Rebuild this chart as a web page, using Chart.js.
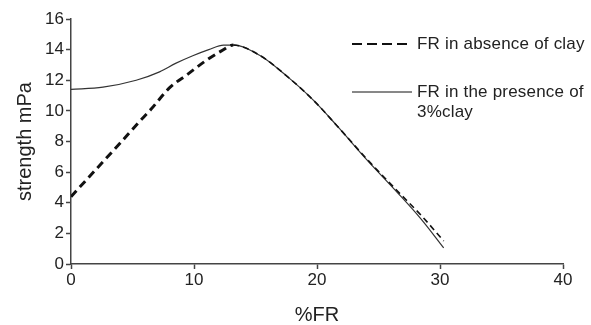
<!DOCTYPE html>
<html>
<head>
<meta charset="utf-8">
<script src="https://cdn.jsdelivr.net/npm/chart.js@4/dist/chart.umd.min.js"></script>
<style>
  html, body { margin: 0; padding: 0; background: #fff; }
  #wrap { width: 591px; height: 325px; }
</style>
</head>
<body>
<div id="wrap"><canvas id="strengthChart"></canvas></div>
<script>
// ----------------------------
// DATA
// ----------------------------
// strength (mPa) against fibre content (%FR)
const absenceX = [0, 2, 4, 5.45, 6.5, 8, 9.5, 11, 12.2, 13.2, 15.4, 17.5, 19.7, 21.6, 24, 26.5, 28.5, 30.3];
const absenceY = [4.4, 6.15, 7.9, 9.2, 10.1, 11.5, 12.4, 13.3, 13.9, 14.3, 13.6, 12.3, 10.7, 9.05, 6.9, 4.8, 3.15, 1.5];

const clayX = [0, 2.6, 5.3, 7.2, 8.5, 9.9, 11.2, 12.4, 13.2, 15.4, 17.5, 19.7, 21.6, 24, 26.5, 28.5, 30.3];
const clayY = [11.4, 11.55, 12.0, 12.55, 13.1, 13.6, 14.0, 14.3, 14.3, 13.6, 12.3, 10.7, 9.05, 6.85, 4.7, 2.9, 1.05];

const absenceLabel = ["FR in absence of clay"];
const clayLabel = ["FR in the presence of", "3%clay"];

const xTicks = [0, 10, 20, 30, 40];
const yTicks = [0, 2, 4, 6, 8, 10, 12, 14, 16];

const FONT = "'Liberation Sans', Arial, sans-serif";
const INK = "#222";

function toPoints(xs, ys) {
  return xs.map((x, i) => ({ x: x, y: ys[i] }));
}

// ----------------------------
// LEGEND (drawn inside the plot, top right)
// ----------------------------
const sideLegend = {
  id: "sideLegend",
  afterDraw(chart) {
    const ctx = chart.ctx;
    const x0 = 352, len = 60, textX = 417;
    const rows = [44, 92];
    const lineH = 20;
    chart.data.datasets.forEach((ds, i) => {
      const y = rows[i];
      ctx.save();
      ctx.strokeStyle = "#111";
      ctx.lineWidth = ds.legendWidth;
      ctx.setLineDash(ds.legendDash);
      ctx.beginPath();
      ctx.moveTo(x0, y);
      ctx.lineTo(x0 + len, y);
      ctx.stroke();
      ctx.setLineDash([]);
      ctx.fillStyle = INK;
      ctx.font = "17px " + FONT;
      ctx.letterSpacing = "0.2px";
      ctx.textBaseline = "middle";
      ctx.textAlign = "left";
      ds.legendText.forEach((t, k) => ctx.fillText(t, textX, y + k * lineH));
      ctx.restore();
    });
  }
};

// ----------------------------
// CHART
// ----------------------------
const ctx = document.getElementById("strengthChart").getContext("2d");

new Chart(ctx, {
  type: "line",
  data: {
    datasets: [
      {
        label: absenceLabel.join(" "),
        legendText: absenceLabel,
        legendDash: [10, 5],
        legendWidth: 2.2,
        data: toPoints(absenceX, absenceY),
        borderColor: "#111",
        borderWidth: 3,
        borderDash: [8, 5],
        cubicInterpolationMode: "monotone",
        pointRadius: 0,
        segment: {
          // thinner dashes on the falling branch
          borderWidth: c => c.p0.parsed.x >= 13.2 ? 1.6 : 3,
          borderDash: c => c.p0.parsed.x >= 13.2 ? [6, 4] : [8, 5]
        }
      },
      {
        label: clayLabel.join(" "),
        legendText: clayLabel,
        legendDash: [],
        legendWidth: 1,
        data: toPoints(clayX, clayY),
        borderColor: "#333",
        borderWidth: 1.2,
        cubicInterpolationMode: "monotone",
        pointRadius: 0
      }
    ]
  },
  options: {
    responsive: true,
    maintainAspectRatio: false,
    animation: false,
    devicePixelRatio: 1,
    layout: { padding: { top: 19, right: 28, bottom: 0, left: 0 } },
    plugins: {
      legend: { display: false },
      tooltip: { enabled: false }
    },
    scales: {
      x: {
        type: "linear",
        min: 0,
        max: 40,
        afterBuildTicks: s => { s.ticks = xTicks.map(v => ({ value: v })); },
        afterFit: s => { s.height = 61; },
        ticks: { color: INK, font: { family: FONT, size: 17 }, padding: 1, maxRotation: 0 },
        grid: { drawOnChartArea: false, tickLength: 5, tickColor: "#444", tickWidth: 1.5 },
        border: { color: "#444", width: 1.5 },
        title: {
          display: true,
          text: "%FR",
          color: INK,
          font: { family: FONT, size: 20, lineHeight: 1 },
          padding: { top: 0, bottom: 0 }
        }
      },
      y: {
        min: 0,
        max: 16,
        afterBuildTicks: s => { s.ticks = yTicks.map(v => ({ value: v })); },
        afterFit: s => { s.width = 71; },
        ticks: { color: INK, font: { family: FONT, size: 17 }, padding: 2 },
        grid: { drawOnChartArea: false, tickLength: 5, tickColor: "#444", tickWidth: 1.5 },
        border: { color: "#444", width: 1.5 },
        title: {
          display: true,
          text: "strength mPa",
          color: INK,
          font: { family: FONT, size: 20, lineHeight: 1 },
          padding: { top: 15, bottom: 0 }
        }
      }
    }
  },
  plugins: [sideLegend]
});
</script>
</body>
</html>
